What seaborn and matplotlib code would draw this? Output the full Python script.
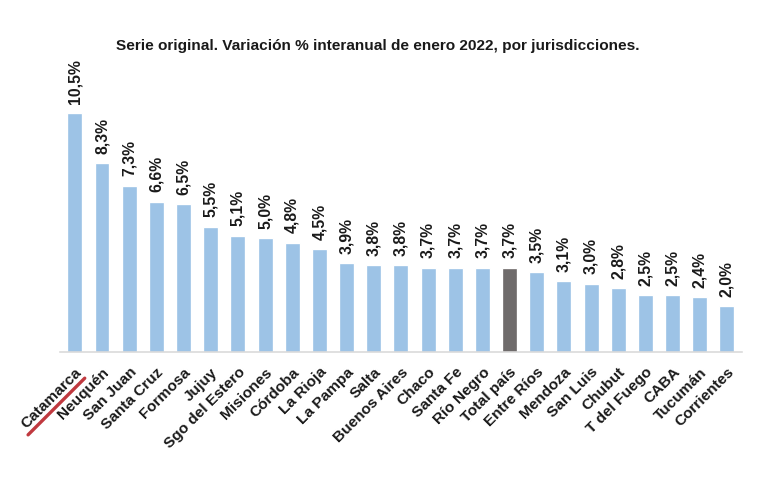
import matplotlib
matplotlib.use("Agg")
import matplotlib.pyplot as plt
import seaborn as sns
import pandas as pd
from matplotlib.lines import Line2D

jurisdicciones = ["Catamarca", "Neuquén", "San Juan", "Santa Cruz", "Formosa", "Jujuy",
                  "Sgo del Estero", "Misiones", "Córdoba", "La Rioja", "La Pampa", "Salta",
                  "Buenos Aires", "Chaco", "Santa Fe", "Río Negro", "Total país", "Entre Ríos",
                  "Mendoza", "San Luis", "Chubut", "T del Fuego", "CABA", "Tucumán", "Corrientes"]
variacion = [10.5, 8.3, 7.3, 6.6, 6.5, 5.5, 5.1, 5.0, 4.8, 4.5, 3.9, 3.8,
             3.8, 3.7, 3.7, 3.7, 3.7, 3.5, 3.1, 3.0, 2.8, 2.5, 2.5, 2.4, 2.0]

titulo = "Serie original. Variación % interanual de enero 2022, por jurisdicciones."

sns.set_theme(style="white")
plt.rcParams['font.family'] = ['Liberation Sans', 'DejaVu Sans']

df = pd.DataFrame({"jur": jurisdicciones, "var": variacion})
colores = ["#6f6b6b" if j == "Total país" else "#9dc3e6" for j in jurisdicciones]

fig = plt.figure(figsize=(8, 5), dpi=96)
ax = fig.add_axes([0.078, 0.267, 0.888, 0.583])

sns.barplot(data=df, x="jur", y="var", hue="jur", palette=colores, legend=False,
            width=0.55, saturation=1, ax=ax)

for i, v in enumerate(variacion):
    ax.annotate(f"{v:.1f}%".replace(".", ","), (i, v), xytext=(0, 7),
                textcoords="offset points", rotation=90, ha="center", va="bottom",
                fontsize=11.8, fontweight="bold", color="#1a1a1a")

ax.set_xlim(-0.55, len(jurisdicciones) - 0.45)
ax.set_ylim(0, 12.3)
ax.set_xlabel("")
ax.set_ylabel("")
ax.set_yticks([])
for s in ["top", "right", "left"]:
    ax.spines[s].set_visible(False)
ax.spines["bottom"].set_color("#d9d9d9")
ax.spines["bottom"].set_linewidth(1.2)
ax.tick_params(axis="x", length=0, pad=10)
for lab in ax.get_xticklabels():
    lab.set_rotation(45)
    lab.set_ha("right")
    lab.set_rotation_mode("anchor")
    lab.set_fontsize(11.5)
    lab.set_fontweight("bold")
    lab.set_color("#1a1a1a")

fig.text(0.492, 0.904, titulo, ha="center", va="center", fontsize=11.5,
         fontweight="bold", color="#1a1a1a")

# subrayado rojo bajo Catamarca
fig.canvas.draw()
bb = ax.get_xticklabels()[0].get_window_extent()
off = 13
x0, y0 = bb.x0 + off - 4, bb.y0 - 4
x1, y1 = bb.x1, bb.y1 - off
fig.add_artist(Line2D([x0 / fig.bbox.width, x1 / fig.bbox.width],
                      [y0 / fig.bbox.height, y1 / fig.bbox.height],
                      color="#c0393f", linewidth=2.5, transform=fig.transFigure))

fig.savefig("out.png", dpi=96)
